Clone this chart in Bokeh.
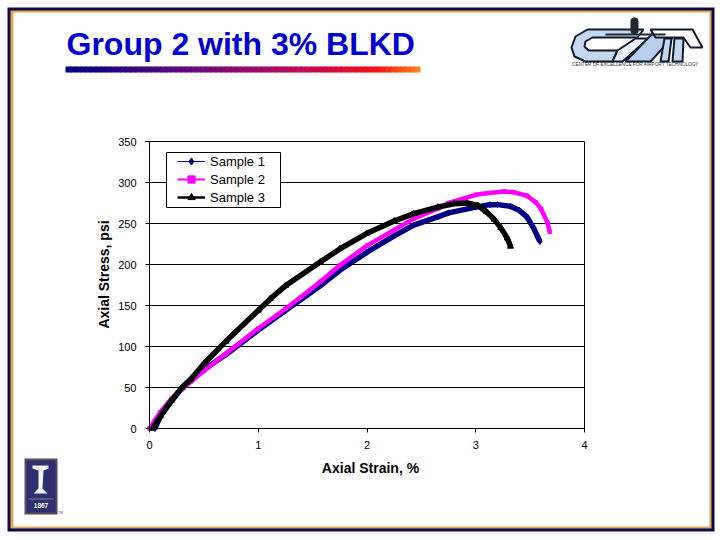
from bokeh.embed import file_html
from bokeh.models import BoxAnnotation, FixedTicker, Label, Legend, LegendItem, PolyAnnotation
from bokeh.plotting import figure
from bokeh.resources import INLINE

# Data section ################################################################

x_ticks = [0, 1, 2, 3, 4]
y_ticks = [0, 50, 100, 150, 200, 250, 300, 350]

sample1_strain = [0.05, 0.1, 0.2, 0.3, 0.38, 0.5, 0.7, 1.0, 1.25, 1.39, 1.57, 1.75, 2.0, 2.25, 2.43, 2.65, 2.75, 3.0, 3.13, 3.2, 3.32, 3.4, 3.47, 3.53, 3.59]
sample1_stress = [0, 15, 33, 50, 60, 72, 90, 120, 144, 157, 174, 193, 215, 235, 248, 258, 263, 270, 273, 273, 271, 266, 258, 245, 228]

sample2_strain = [0.0, 0.05, 0.1, 0.2, 0.3, 0.38, 0.5, 0.7, 1.0, 1.25, 1.39, 1.57, 1.75, 2.0, 2.25, 2.43, 2.65, 2.75, 3.0, 3.1, 3.26, 3.35, 3.47, 3.55, 3.6, 3.66, 3.68]
sample2_stress = [0, 10, 20, 36, 48, 57, 70, 91, 122, 146, 160, 179, 199, 223, 242, 256, 268, 275, 285, 287, 289, 288, 284, 276, 268, 251, 240]

sample3_strain = [0.03, 0.1, 0.2, 0.3, 0.38, 0.5, 0.7, 1.0, 1.11, 1.25, 1.57, 1.75, 2.0, 2.25, 2.43, 2.65, 2.8, 2.92, 3.02, 3.1, 3.17, 3.23, 3.29, 3.32]
sample3_stress = [0, 15, 34, 50, 60, 79, 106, 144, 158, 174, 203, 219, 238, 253, 262, 270, 274, 275, 272, 264, 255, 245, 232, 222]

series = [
    ("Sample 1", sample1_strain, sample1_stress, "#000080", "diamond", 5.5, 1, 6),
    ("Sample 2", sample2_strain, sample2_stress, "#ff00ff", "square", 4.5, 2, 3.5),
    ("Sample 3", sample3_strain, sample3_stress, "#000000", "triangle", 5.5, 2.5, 6),
]

# Plot section ################################################################

WIDTH = 716
HEIGHT = 534

# the frame fills the whole canvas so the slide decoration is not clipped,
# the ranges put strain 0..4 on pixels 149..584 and stress 0..350 on 428..141
PX_X = 435 / 4
PX_Y = 287 / 350

p = figure(width=WIDTH, height=HEIGHT, min_border=0,
           x_range=(-149 / PX_X, (WIDTH - 149) / PX_X),
           y_range=(-(HEIGHT - 428) / PX_Y, 428 / PX_Y),
           output_backend="svg", toolbar_location=None,
           background_fill_color="white", border_fill_color="white")

p.outline_line_color = None
p.grid.visible = False

p.xaxis.ticker = FixedTicker(ticks=x_ticks)
p.yaxis.ticker = FixedTicker(ticks=y_ticks)
p.xaxis.fixed_location = 0
p.yaxis.fixed_location = 0
p.xaxis.bounds = (0, 4)
p.yaxis.bounds = (0, 350)
for axis in (p.xaxis[0], p.yaxis[0]):
    axis.axis_line_color = "black"
    axis.major_tick_line_color = "black"
    axis.major_tick_in = 0
    axis.major_tick_out = 4
    axis.minor_tick_line_color = None
    axis.major_label_text_font = "Liberation Sans"
    axis.major_label_text_font_size = "11px"
    axis.major_label_text_color = "black"
p.xaxis.major_label_standoff = 8
p.yaxis.major_label_standoff = 9

# gridlines and right edge of the plot area, they stop at the plot area
p.segment(x_ticks[0], y_ticks, x_ticks[-1], y_ticks, color="black", line_width=1)
p.segment(x_ticks[-1], y_ticks[0], x_ticks[-1], y_ticks[-1], color="black", line_width=1)

legend_items = []
for name, xs, ys, color, marker, curve_width, key_width, marker_size in series:
    p.line(xs, ys, color=color, line_width=curve_width)
    key_line = p.line(xs, ys, color=color, line_width=key_width)
    key_marker = p.scatter(xs, ys, marker=marker, size=marker_size, color=color)
    legend_items.append(LegendItem(label=name, renderers=[key_line, key_marker]))


# slide decoration, all given in canvas pixels
def box(left, top, right, bottom, color, level="image", **kw):
    p.add_layout(BoxAnnotation(left=left, right=right, top=top, bottom=bottom,
                               left_units="canvas", right_units="canvas",
                               top_units="canvas", bottom_units="canvas",
                               fill_color=color, fill_alpha=1, line_alpha=1, level=level, **kw))


def poly(points, fill, line="#10182c", width=1):
    p.add_layout(PolyAnnotation(xs=[a for a, b in points], ys=[b for a, b in points],
                                xs_units="canvas", ys_units="canvas",
                                fill_color=fill, fill_alpha=1, line_color=line, line_alpha=1,
                                line_width=width, level="overlay"))


def text(x, y, s, size, color="black", style="normal", font="Liberation Sans", align="left", angle=0):
    p.add_layout(Label(x=x, y=y, x_units="canvas", y_units="canvas", text=s,
                       text_font=font, text_font_size=size, text_color=color, text_font_style=style,
                       text_align=align, text_baseline="middle", angle=angle, angle_units="deg"))


# frame
box(7, 7, 714, 531, "#10084c", line_color=None)
box(10, 10, 711, 528, "#e0a850", line_color=None)
box(13, 12, 709, 526, "white", line_color=None)

# title and its gradient bar
text(66, 43, "Group 2 with 3% BLKD", "32px", "#0000d0", "bold")
stops = [(0.0, (0, 0, 128)), (0.35, (104, 10, 128)), (0.7, (200, 10, 80)), (0.88, (240, 16, 16)), (1.0, (255, 128, 32))]
for i in range(71):
    f = i / 70
    for (f0, c0), (f1, c1) in zip(stops, stops[1:]):
        if f <= f1:
            t = (f - f0) / (f1 - f0)
            rgb = tuple(round(u + (v - u) * t) for u, v in zip(c0, c1))
            break
    # each piece runs under the next one so no seams show
    box(65 + i * 5, 66, min(71 + i * 5, 420), 72, "#%02x%02x%02x" % rgb, line_color=None)

# axis titles
text(370, 467, "Axial Strain, %", "14px", style="bold", align="center")
text(103, 274, "Axial Stress, psi", "14px", style="bold", align="center", angle=90)

# airport centre logo
poly([(571, 47), (575, 36), (587, 29), (643, 29), (637, 37), (592, 37), (585, 41), (584, 46), (588, 50), (617, 50), (612, 61), (585, 61), (574, 56)], "#c4d8f0", width=2)
poly([(617, 50), (635, 38), (648, 38), (622, 61), (612, 61)], "#e8f0fa", width=2)
poly([(625, 61), (655, 30), (672, 37), (650, 61)], "#b8d0f0", width=2)
poly([(650, 29), (692, 29), (702, 47), (690, 47), (683, 37), (655, 37)], "#ffffff", width=2)
poly([(660, 61), (664, 38), (671, 38), (668, 61)], "#c4d8f0", width=2)
poly([(672, 61), (674, 38), (683, 38), (682, 61)], "#c4d8f0", width=2)
box(605, 33, 665, 35, "#202830", level="overlay", line_color=None)
box(630, 17, 638, 34, "#202830", level="overlay", line_color=None, border_radius=4)
text(635, 64, "CENTER OF EXCELLENCE FOR AIRPORT TECHNOLOGY", "4.7px", "#303030", align="center")

# university mark
box(24, 458, 57, 514, "#5c4a58", line_color=None)
box(26, 460, 55, 512, "#2e2f70", line_color=None)
poly([(32, 465), (48, 465), (48, 468), (43, 470), (42, 488), (47, 493), (33, 493), (38, 488), (38, 470), (32, 468)], "#f4f4f8", line=None)
box(28, 498, 53, 499, "#8a7a80", line_color=None)
text(40.5, 505, "1867", "6.5px", "white", "bold", align="center")
text(60, 512, "TM", "3px", "#404040", align="center")

# legend box sits under the legend, whose own padding cannot be set per side
box(166, 152, 280, 207, "white", level="annotation", line_color="black", line_width=1)
legend = Legend(items=legend_items, location=(177, HEIGHT - 206), margin=0, padding=0, spacing=0,
                glyph_width=28, glyph_height=18, label_height=18, label_standoff=5,
                label_text_font="Liberation Sans", label_text_font_size="13px",
                label_text_color="black", border_line_color=None,
                background_fill_alpha=0)
p.add_layout(legend)

open("out.html", "w").write(file_html(p, INLINE))
